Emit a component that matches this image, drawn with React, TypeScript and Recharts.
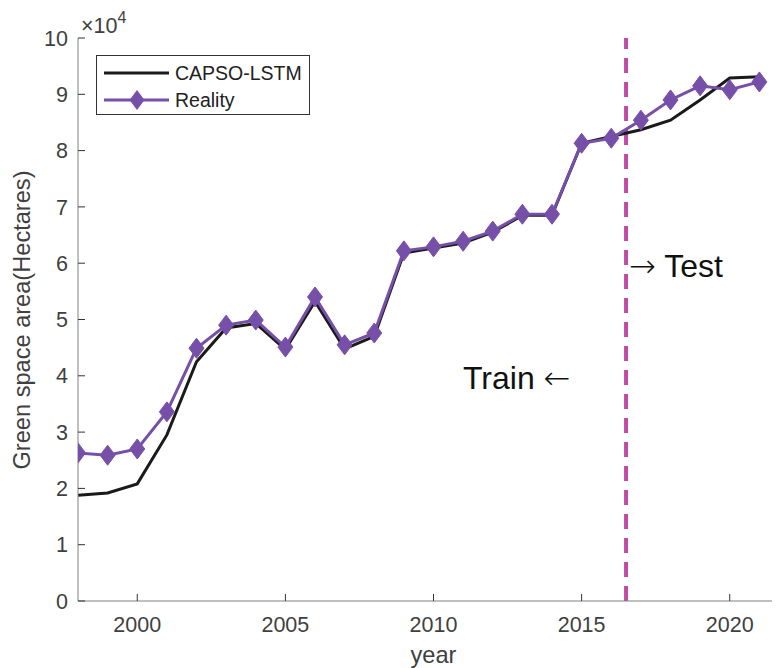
import React from "react";
import {
  LineChart,
  Line,
  XAxis,
  YAxis,
  Legend,
  ReferenceLine,
  Label
} from "recharts";

// years on the x axis
const years = [
  1998, 1999, 2000, 2001, 2002, 2003, 2004, 2005, 2006, 2007, 2008, 2009,
  2010, 2011, 2012, 2013, 2014, 2015, 2016, 2017, 2018, 2019, 2020, 2021
];

// green space area, hectares
const reality = [
  26300, 25900, 27000, 33600, 44900, 49000, 49900, 45100, 54000, 45500, 47600, 62200,
  62900, 63900, 65700, 68700, 68700, 81300, 82200, 85400, 89000, 91500, 90800, 92200
];
const capsoLstm = [
  18800, 19200, 20800, 29500, 42500, 48500, 49300, 44700, 53200, 44800, 47000, 61800,
  62700, 63600, 65500, 68500, 68500, 81300, 82500, 83700, 85400, 89000, 92900, 93100
];

const xTicks = [2000, 2005, 2010, 2015, 2020];
const yTicks = [0, 10000, 20000, 30000, 40000, 50000, 60000, 70000, 80000, 90000, 100000];
const splitYear = 2016.5;

const data = years.map((year, i) => ({
  year,
  reality: reality[i],
  capso: capsoLstm[i]
}));

const PURPLE = "#7650A8";
const BLACK = "#1a1a1a";
const AXIS = "#808080";
const TEXT = "#404040";
const FONT = "'Liberation Sans', Arial, Helvetica, sans-serif";

const Diamond = (props: any) => {
  const { cx, cy, index } = props;
  if (cx == null || cy == null) return null;
  const hw = 7.5;
  const hh = 10;
  return (
    <polygon
      key={"d" + index}
      points={`${cx},${cy - hh} ${cx + hw},${cy} ${cx},${cy + hh} ${cx - hw},${cy}`}
      fill={PURPLE}
      stroke={PURPLE}
    />
  );
};

const LegendBox = () => (
  <div
    style={{
      width: 212,
      height: 58,
      border: "1px solid #333",
      background: "#fff",
      fontFamily: FONT,
      fontSize: 19.5,
      color: "#222"
    }}
  >
    <div style={{ display: "flex", alignItems: "center", height: 30, marginTop: 2 }}>
      <svg width={78} height={20}>
        <line x1={7} y1={10} x2={72} y2={10} stroke={BLACK} strokeWidth={3} />
      </svg>
      <span>CAPSO-LSTM</span>
    </div>
    <div style={{ display: "flex", alignItems: "center", height: 24 }}>
      <svg width={78} height={24}>
        <line x1={7} y1={12} x2={72} y2={12} stroke={PURPLE} strokeWidth={3} />
        <polygon points="40,2 47.5,12 40,22 32.5,12" fill={PURPLE} />
      </svg>
      <span>Reality</span>
    </div>
  </div>
);

export default function App() {
  return (
    <div style={{ width: 772, height: 660, overflow: "hidden", position: "relative" }}>
      <LineChart
        width={791}
        height={660}
        data={data}
        margin={{ top: 30, right: 10, left: 0, bottom: 0 }}
        style={{ fontFamily: FONT }}
      >
        <XAxis
          dataKey="year"
          type="number"
          domain={[1998, 2022]}
          ticks={xTicks}
          allowDataOverflow
          height={67}
          stroke={AXIS}
          tickSize={-7}
          tickMargin={23}
          tick={{ fill: TEXT, fontSize: 21.5 }}
          tickLine={{ stroke: "#333" }}
        >
          <Label value="year" position="insideBottom" offset={5} fill={TEXT} fontSize={23.6} />
        </XAxis>
        <XAxis
          xAxisId="top"
          dataKey="year"
          type="number"
          orientation="top"
          domain={[1998, 2022]}
          ticks={xTicks}
          allowDataOverflow
          height={0}
          stroke={AXIS}
          tickSize={-7}
          tick={false}
          tickLine={{ stroke: "#333" }}
        />
        <YAxis
          domain={[0, 100000]}
          ticks={yTicks}
          width={70}
          stroke={AXIS}
          tickSize={-7}
          tickMargin={17}
          tickFormatter={(v: number) => String(v / 10000)}
          tick={{ fill: TEXT, fontSize: 21.5 }}
          tickLine={{ stroke: "#333" }}
          allowDataOverflow
        />
        <ReferenceLine
          x={splitYear}
          stroke="#C04AA8"
          strokeWidth={4}
          strokeDasharray="15 9"
        />
        <Line
          dataKey="capso"
          stroke={BLACK}
          strokeWidth={3}
          dot={false}
          isAnimationActive={false}
        />
        <Line
          dataKey="reality"
          stroke={PURPLE}
          strokeWidth={3}
          dot={Diamond}
          isAnimationActive={false}
        />
        <Legend
          layout="horizontal"
          verticalAlign="middle"
          align="center"
          content={LegendBox}
          wrapperStyle={{ position: "absolute", left: 88, top: 47, width: 214, height: 60 }}
        />
        <text
          x={14}
          y={312}
          transform="rotate(-90 14 312)"
          textAnchor="middle"
          dominantBaseline="central"
          fill={TEXT}
          fontSize={23.6}
          fontFamily={FONT}
        >
          Green space area(Hectares)
        </text>
        <text x={73} y={25} fill={TEXT} fontFamily={FONT} fontSize={21.5}>
          ×10
          <tspan fontSize={16} dy={-10}>4</tspan>
        </text>
        <text x={621} y={269} fill="#111" fontFamily={FONT} fontSize={32}>
          <tspan fontFamily="'DejaVu Sans'" fontWeight={200}>→</tspan> Test
        </text>
        <text x={455} y={381} fill="#111" fontFamily={FONT} fontSize={32}>
          Train <tspan fontFamily="'DejaVu Sans'" fontWeight={200}>←</tspan>
        </text>
      </LineChart>
    </div>
  );
}
